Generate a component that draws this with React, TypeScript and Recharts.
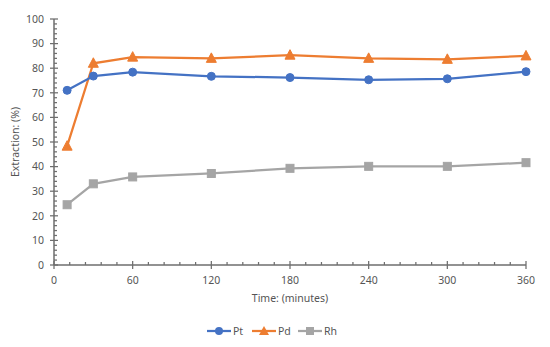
import React from "react";
import { LineChart, Line, XAxis, YAxis } from "recharts";

const times = [10, 30, 60, 120, 180, 240, 300, 360];
const ptValues = [71.0, 76.8, 78.4, 76.7, 76.2, 75.3, 75.7, 78.6];
const pdValues = [48.3, 82.0, 84.5, 84.0, 85.3, 84.0, 83.6, 85.0];
const rhValues = [24.5, 33.0, 35.8, 37.2, 39.3, 40.1, 40.1, 41.6];
const xTicks = [0, 60, 120, 180, 240, 300, 360];
const yTicks = [0, 10, 20, 30, 40, 50, 60, 70, 80, 90, 100];

const xMinor: number[] = [];
for (let v = 0; v <= 360; v += 12) xMinor.push(v);
const yMinor: number[] = [];
for (let v = 0; v <= 100; v += 2) yMinor.push(v);

const data = times.map((t, i) => ({ t, Pt: ptValues[i], Pd: pdValues[i], Rh: rhValues[i] }));

const AXIS = "#6e6e6e";
const TXT = "#555555";
const FONT = "'Noto Sans', 'Open Sans', sans-serif";
const C_PT = "#4472C4";
const C_PD = "#ED7D31";
const C_RH = "#A5A5A5";

const XTick = (props: any) => {
  const { x, y, payload } = props;
  const major = xTicks.includes(payload.value);
  return (
    <g>
      {major ? (
        <line x1={x} x2={x} y1={y - 4} y2={y + 4} stroke={AXIS} strokeWidth={1.25} />
      ) : (
        <line x1={x} x2={x} y1={y - 3} y2={y} stroke={AXIS} strokeWidth={1.25} />
      )}
      {major && (
        <text x={x} y={y + 19} textAnchor="middle" fill={TXT} fontSize={10.5} fontFamily={FONT}>
          {payload.value}
        </text>
      )}
    </g>
  );
};

const YTick = (props: any) => {
  const { x, y, payload } = props;
  const major = yTicks.includes(payload.value);
  return (
    <g>
      {major ? (
        <line x1={x - 4} x2={x + 4} y1={y} y2={y} stroke={AXIS} strokeWidth={1.25} />
      ) : (
        <line x1={x} x2={x + 3} y1={y} y2={y} stroke={AXIS} strokeWidth={1.25} />
      )}
      {major && (
        <text x={x - 10} y={y + 3.8} textAnchor="end" fill={TXT} fontSize={10.5} fontFamily={FONT}>
          {payload.value}
        </text>
      )}
    </g>
  );
};

const TriDot = (props: any) => {
  const { cx, cy, index } = props;
  if (cx == null || cy == null) return <g key={index} />;
  const s = 5;
  return (
    <path
      key={index}
      d={`M${cx},${cy - s - 0.5} L${cx + s},${cy + s - 1} L${cx - s},${cy + s - 1} Z`}
      fill={C_PD}
      stroke={C_PD}
    />
  );
};

const SqDot = (props: any) => {
  const { cx, cy, index } = props;
  if (cx == null || cy == null) return <g key={index} />;
  return <rect key={index} x={cx - 4} y={cy - 4} width={8} height={8} fill={C_RH} stroke={C_RH} />;
};

const LegendItem = ({ x, color, label, kind }: { x: number; color: string; label: string; kind: string }) => {
  const y = 331;
  let marker: React.ReactNode;
  if (kind === "circle") marker = <circle cx={x + 12} cy={y} r={4} fill={color} />;
  else if (kind === "tri")
    marker = <path d={`M${x + 12},${y - 5} L${x + 17},${y + 4} L${x + 7},${y + 4} Z`} fill={color} />;
  else marker = <rect x={x + 8} y={y - 4} width={8} height={8} fill={color} />;
  return (
    <g>
      <line x1={x} x2={x + 24} y1={y} y2={y} stroke={color} strokeWidth={2.25} />
      {marker}
      <text x={x + 26} y={y + 3.8} fill={TXT} fontSize={10.5} fontFamily={FONT}>
        {label}
      </text>
    </g>
  );
};

export default function App() {
  return (
    <div style={{ position: "absolute", left: 0, top: 0, width: 550, height: 347, background: "#fff" }}>
      <LineChart width={550} height={347} data={data} margin={{ top: 19, right: 24, left: 0, bottom: 0 }}>
        <XAxis
          dataKey="t"
          type="number"
          domain={[0, 360]}
          ticks={xMinor}
          interval={0}
          height={82}
          tickSize={0}
          tickMargin={0}
          tickLine={false}
          axisLine={{ stroke: AXIS, strokeWidth: 1.5 }}
          tick={<XTick />}
        />
        <YAxis
          type="number"
          domain={[0, 100]}
          ticks={yMinor}
          interval={0}
          width={54}
          tickSize={0}
          tickMargin={0}
          tickLine={false}
          axisLine={{ stroke: AXIS, strokeWidth: 1.5 }}
          tick={<YTick />}
        />
        <Line
          dataKey="Rh"
          type="linear"
          stroke={C_RH}
          strokeWidth={2.25}
          dot={<SqDot />}
          isAnimationActive={false}
        />
        <Line
          dataKey="Pd"
          type="linear"
          stroke={C_PD}
          strokeWidth={2.25}
          dot={<TriDot />}
          isAnimationActive={false}
        />
        <Line
          dataKey="Pt"
          type="linear"
          stroke={C_PT}
          strokeWidth={2.25}
          dot={{ r: 4, fill: C_PT, stroke: C_PT, strokeWidth: 1 }}
          isAnimationActive={false}
        />
      </LineChart>
      <svg width={550} height={347} style={{ position: "absolute", left: 0, top: 0, pointerEvents: "none" }}>
        <text x={290} y={302} textAnchor="middle" fill={TXT} fontSize={10.5} fontFamily={FONT}>
          Time: (minutes)
        </text>
        <text
          x={0}
          y={0}
          transform="translate(19,142) rotate(-90)"
          textAnchor="middle"
          fill={TXT}
          fontSize={10.5}
          fontFamily={FONT}
        >
          Extraction: (%)
        </text>
        <LegendItem x={207} color={C_PT} label="Pt" kind="circle" />
        <LegendItem x={252} color={C_PD} label="Pd" kind="tri" />
        <LegendItem x={298} color={C_RH} label="Rh" kind="square" />
      </svg>
    </div>
  );
}
